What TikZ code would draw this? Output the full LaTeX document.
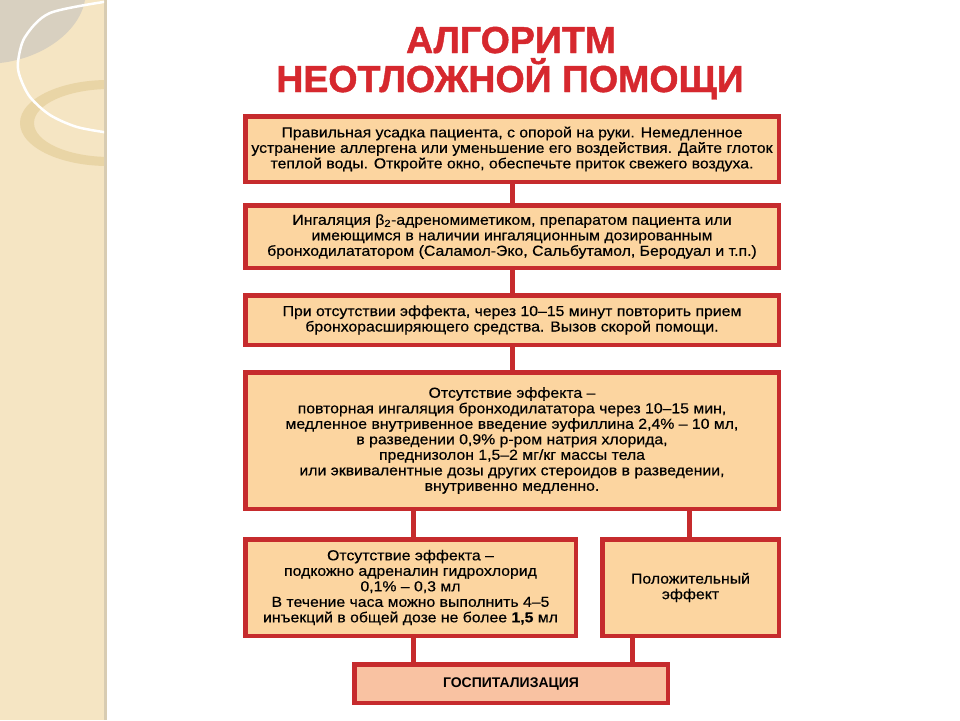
\documentclass[tikz,border=0pt]{standalone}
\usepackage{fontspec}
\setmainfont{Liberation Sans}
\newfontfamily\boxfont[FakeStretch=1.09, FakeBold=0.4]{Liberation Sans}
\newfontfamily\ttlfont[FakeBold=1.2]{Liberation Sans Bold}
\definecolor{boxred}{HTML}{C62B2D}
\definecolor{boxfill}{HTML}{FCD5A0}
\definecolor{hospfill}{HTML}{F9C2A2}
\definecolor{titlered}{HTML}{D6282E}
\definecolor{strip}{HTML}{F5E5C3}
\definecolor{stripedge}{HTML}{D8CCB2}
\definecolor{graypatch}{HTML}{D8D0C0}
\definecolor{ringcol}{HTML}{E9D5A6}
\begin{document}
\begin{tikzpicture}[x=1pt,y=-1pt,
  box/.style={draw=boxred, line width=4.5pt, fill=boxfill, align=center,
    inner sep=0pt, font=\boxfont\fontsize{14.5}{15.5}\selectfont},
  link/.style={draw=boxred, line width=5pt},
  ttl/.style={text=titlered, anchor=base, inner sep=0pt,
    font=\ttlfont\fontsize{37.5}{40}\selectfont}]
\useasboundingbox (0,0) rectangle (960,720);
\fill[white] (0,0) rectangle (960,720);
% decorative strip
\fill[strip] (0,0) rectangle (104,720);
\fill[stripedge] (104,0) rectangle (107,720);
\begin{scope}
  \clip (0,0) rectangle (104,720);
  \fill[graypatch] (0,0) -- (85,0) .. controls (80,30) and (45,58) .. (0,63) -- cycle;
  \fill[ringcol, even odd rule] (108,123) ellipse [x radius=88, y radius=43]
                                (110,123) ellipse [x radius=76, y radius=34];
  \draw[white, line width=2.5pt] plot[smooth] coordinates
    {(110,1) (50,13) (25,37) (18,62) (20,77) (30,97) (50,115) (77,127) (110,133)};
\end{scope}
% title
\node[ttl] (t1) at (511,53) {АЛГОРИТМ};
\node[ttl] (t2) at (510,92) {НЕОТЛОЖНОЙ ПОМОЩИ};
% boxes
\node[box, minimum width=533.5pt, minimum height=65.5pt] (b1) at (512,149)
  {Правильная усадка пациента, с опорой на руки. Немедленное\\
   устранение аллергена или уменьшение его воздействия. Дайте глоток\\
   теплой воды. Откройте окно, обеспечьте приток свежего воздуха.};
\node[box, minimum width=533.5pt, minimum height=62.5pt] (b2) at (512,236.5)
  {Ингаляция β\textsubscript{2}-адреномиметиком, препаратом пациента или\\
   имеющимся в наличии ингаляционным дозированным\\
   бронходилататором (Саламол-Эко, Сальбутамол, Беродуал и т.п.)};
\node[box, minimum width=533.5pt, minimum height=49.5pt] (b3) at (512,320)
  {При отсутствии эффекта, через 10–15 минут повторить прием\\
   бронхорасширяющего средства. Вызов скорой помощи.};
\node[box, minimum width=533.5pt, minimum height=136.5pt] (b4) at (512,440.5)
  {Отсутствие эффекта –\\
   повторная ингаляция бронходилататора через 10–15 мин,\\
   медленное внутривенное введение эуфиллина 2,4\% – 10 мл,\\
   в разведении 0,9\% р-ром натрия хлорида,\\
   преднизолон 1,5–2 мг/кг массы тела\\
   или эквивалентные дозы других стероидов в разведении,\\
   внутривенно медленно.};
\node[box, minimum width=330.5pt, minimum height=96.5pt] (b5) at (410.5,587.5)
  {Отсутствие эффекта –\\
   подкожно адреналин гидрохлорид\\
   0,1\% – 0,3 мл\\
   В течение часа можно выполнить 4–5\\
   инъекций в общей дозе не более \textbf{1,5} мл};
\node[box, minimum width=176.5pt, minimum height=96.5pt] (b6) at (690.5,587.5)
  {Положительный\\эффект};
\node[box, fill=hospfill, minimum width=313.5pt, minimum height=38.5pt,
  font=\bfseries\fontsize{14}{15.5}\selectfont] (b7) at (511,683.5)
  {ГОСПИТАЛИЗАЦИЯ};
% connectors
\draw[link] (b1.south) -- (b2.north);
\draw[link] (b2.south) -- (b3.north);
\draw[link] (b3.south) -- (b4.north);
\draw[link] ([xshift=3pt]b4.south -| b5.north) -- ([xshift=3pt]b5.north);
\draw[link] ([xshift=-1pt]b4.south -| b6.north) -- ([xshift=-1pt]b6.north);
\draw[link] ([xshift=3pt]b5.south) -- ([xshift=3pt]b5.south |- b7.north);
\draw[link] ([xshift=-58pt]b6.south) -- ([xshift=-58pt]b6.south |- b7.north);
\end{tikzpicture}
\end{document}
